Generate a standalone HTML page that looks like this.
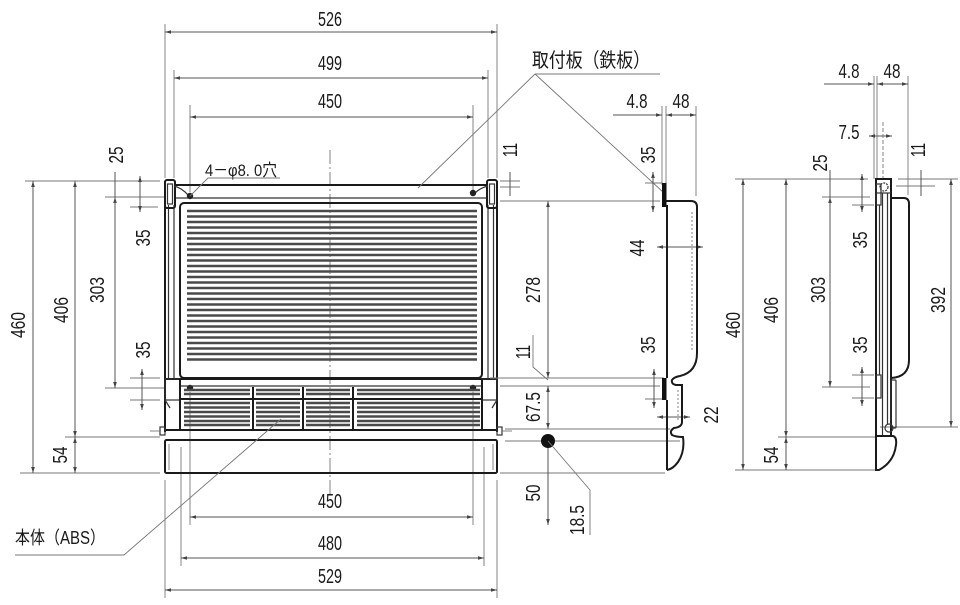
<!DOCTYPE html>
<html><head><meta charset="utf-8"><style>
html,body{margin:0;padding:0;background:#fff;}
svg{display:block;}
.o{stroke:#1a1a1a;fill:none;stroke-width:2;}
.m{stroke:#333;fill:none;stroke-width:1.2;}
.d{stroke:#555;fill:none;stroke-width:1;}
.e{stroke:#777;fill:none;stroke-width:0.9;}
.g{stroke:#4a4a4a;stroke-width:2.4;}
.t{font-family:"Liberation Sans Narrow","Liberation Sans",sans-serif;font-size:20px;fill:#1a1a1a;}
.j{font-family:"Liberation Sans","Noto Sans CJK JP",sans-serif;fill:#1a1a1a;}
</style></head><body>
<svg width="960" height="605" viewBox="0 0 960 605" xmlns="http://www.w3.org/2000/svg">
<defs>
<marker id="a" viewBox="0 0 10 10" refX="10" refY="5" markerWidth="6" markerHeight="6" orient="auto-start-reverse" markerUnits="userSpaceOnUse"><path d="M0,2 L10,5 L0,8 Z" fill="#444"/></marker>
</defs>
<rect width="960" height="605" fill="#fff"/>

<!-- ================= FRONT VIEW ================= -->
<line x1="330" y1="150" x2="330" y2="495" class="e" stroke-dasharray="14,3,2,3"/>

<!-- top dims -->
<line x1="165" y1="24" x2="165" y2="178" class="e"/>
<line x1="497" y1="24" x2="497" y2="178" class="e"/>
<line x1="165" y1="32" x2="497" y2="32" class="d" marker-start="url(#a)" marker-end="url(#a)"/>
<text x="330" y="26" class="t" text-anchor="middle" textLength="24" lengthAdjust="spacingAndGlyphs">526</text>
<line x1="174" y1="70" x2="174" y2="178" class="e"/>
<line x1="488" y1="70" x2="488" y2="178" class="e"/>
<line x1="174" y1="78" x2="488" y2="78" class="d" marker-start="url(#a)" marker-end="url(#a)"/>
<text x="330" y="70" class="t" text-anchor="middle" textLength="24" lengthAdjust="spacingAndGlyphs">499</text>
<line x1="190" y1="105" x2="190" y2="192" class="e"/>
<line x1="473" y1="105" x2="473" y2="190" class="e"/>
<line x1="190" y1="117" x2="473" y2="117" class="d" marker-start="url(#a)" marker-end="url(#a)"/>
<text x="330" y="108" class="t" text-anchor="middle" textLength="24" lengthAdjust="spacingAndGlyphs">450</text>

<!-- bottom dims -->
<line x1="190" y1="392" x2="190" y2="525" class="e"/>
<line x1="473" y1="392" x2="473" y2="525" class="e"/>
<line x1="190" y1="517" x2="473" y2="517" class="d" marker-start="url(#a)" marker-end="url(#a)"/>
<text x="330" y="508" class="t" text-anchor="middle" textLength="24" lengthAdjust="spacingAndGlyphs">450</text>
<line x1="181" y1="447" x2="181" y2="566" class="e"/>
<line x1="484" y1="447" x2="484" y2="566" class="e"/>
<line x1="181" y1="558" x2="484" y2="558" class="d" marker-start="url(#a)" marker-end="url(#a)"/>
<text x="330" y="550" class="t" text-anchor="middle" textLength="24" lengthAdjust="spacingAndGlyphs">480</text>
<line x1="165" y1="480" x2="165" y2="598" class="e"/>
<line x1="497" y1="480" x2="497" y2="598" class="e"/>
<line x1="165" y1="590" x2="497" y2="590" class="d" marker-start="url(#a)" marker-end="url(#a)"/>
<text x="330" y="583" class="t" text-anchor="middle" textLength="24" lengthAdjust="spacingAndGlyphs">529</text>

<!-- left dims -->
<line x1="25" y1="181" x2="160" y2="181" class="e"/>
<line x1="20" y1="473" x2="160" y2="473" class="e"/>
<line x1="65" y1="437" x2="160" y2="437" class="e"/>
<line x1="105" y1="197" x2="165" y2="197" class="e"/>
<line x1="105" y1="388" x2="165" y2="388" class="e"/>
<line x1="130" y1="207" x2="158" y2="207" class="e"/>
<line x1="130" y1="378" x2="160" y2="378" class="e"/>
<line x1="130" y1="400" x2="160" y2="400" class="e"/>
<line x1="33" y1="181" x2="33" y2="473" class="d" marker-start="url(#a)" marker-end="url(#a)"/>
<line x1="75" y1="181" x2="75" y2="437" class="d" marker-start="url(#a)" marker-end="url(#a)"/>
<line x1="75" y1="437" x2="75" y2="473" class="d" marker-start="url(#a)" marker-end="url(#a)"/>
<line x1="115" y1="197" x2="115" y2="388" class="d" marker-start="url(#a)" marker-end="url(#a)"/>
<line x1="115" y1="172" x2="115" y2="205" class="d"/>
<line x1="140" y1="176" x2="140" y2="212" class="d" marker-start="url(#a)" marker-end="url(#a)"/>
<line x1="142" y1="369" x2="142" y2="410" class="d" marker-start="url(#a)" marker-end="url(#a)"/>
<text transform="translate(18,325) rotate(-90)" dy="7" class="t" text-anchor="middle" textLength="26" lengthAdjust="spacingAndGlyphs">460</text>
<text transform="translate(61,310) rotate(-90)" dy="7" class="t" text-anchor="middle" textLength="26" lengthAdjust="spacingAndGlyphs">406</text>
<text transform="translate(97,290) rotate(-90)" dy="7" class="t" text-anchor="middle" textLength="26" lengthAdjust="spacingAndGlyphs">303</text>
<text transform="translate(116,155) rotate(-90)" dy="7" class="t" text-anchor="middle" textLength="17" lengthAdjust="spacingAndGlyphs">25</text>
<text transform="translate(143,238) rotate(-90)" dy="7" class="t" text-anchor="middle" textLength="17" lengthAdjust="spacingAndGlyphs">35</text>
<text transform="translate(143,350) rotate(-90)" dy="7" class="t" text-anchor="middle" textLength="17" lengthAdjust="spacingAndGlyphs">35</text>
<text transform="translate(60,455) rotate(-90)" dy="7" class="t" text-anchor="middle" textLength="17" lengthAdjust="spacingAndGlyphs">54</text>

<!-- 11 right small dim -->
<line x1="500" y1="181" x2="520" y2="181" class="e"/>
<line x1="500" y1="187" x2="520" y2="187" class="e"/>
<line x1="510" y1="172" x2="510" y2="196" class="d"/>
<text transform="translate(510,150) rotate(-90)" dy="7" class="t" text-anchor="middle" textLength="14" lengthAdjust="spacingAndGlyphs">11</text>

<!-- body frame -->
<line x1="165" y1="181" x2="165" y2="432" class="o"/>
<line x1="497" y1="181" x2="497" y2="432" class="o"/>
<line x1="168.5" y1="205" x2="168.5" y2="378" class="m"/>
<line x1="493.5" y1="205" x2="493.5" y2="378" class="m"/>
<line x1="174" y1="205" x2="174" y2="378" class="m"/>
<line x1="488" y1="205" x2="488" y2="378" class="m"/>
<line x1="175" y1="185" x2="487" y2="185" class="o"/>
<line x1="175" y1="198" x2="487" y2="198" class="m"/>
<rect x="165" y="180" width="10" height="28" rx="2" class="o"/>
<rect x="167.5" y="184" width="5" height="20" class="m" stroke-width="1"/>
<rect x="487" y="180" width="10" height="28" rx="2" class="o"/>
<rect x="489.5" y="184" width="5" height="20" class="m" stroke-width="1"/>
<path d="M174,186 Q182,188 188,195" class="m"/>
<path d="M488,186 Q480,188 475,193" class="m"/>
<circle cx="190" cy="196" r="3.2" fill="#222"/>
<circle cx="473" cy="193" r="3.2" fill="#222"/>
<circle cx="190" cy="388" r="3.2" fill="#222"/>
<circle cx="473" cy="388" r="3.2" fill="#222"/>
<rect x="180" y="203" width="302" height="175" rx="4" class="o"/>
<g class="g">
<line x1="187" y1="211" x2="477" y2="211"/><line x1="187" y1="216.5" x2="477" y2="216.5"/>
<line x1="187" y1="222" x2="477" y2="222"/><line x1="187" y1="227.5" x2="477" y2="227.5"/>
<line x1="187" y1="233" x2="477" y2="233"/><line x1="187" y1="238.5" x2="477" y2="238.5"/>
<line x1="187" y1="244" x2="477" y2="244"/><line x1="187" y1="249.5" x2="477" y2="249.5"/>
<line x1="187" y1="255" x2="477" y2="255"/><line x1="187" y1="260.5" x2="477" y2="260.5"/>
<line x1="187" y1="266" x2="477" y2="266"/><line x1="187" y1="271.5" x2="477" y2="271.5"/>
<line x1="187" y1="277" x2="477" y2="277"/><line x1="187" y1="282.5" x2="477" y2="282.5"/>
<line x1="187" y1="288" x2="477" y2="288"/><line x1="187" y1="293.5" x2="477" y2="293.5"/>
<line x1="187" y1="299" x2="477" y2="299"/><line x1="187" y1="304.5" x2="477" y2="304.5"/>
<line x1="187" y1="310" x2="477" y2="310"/><line x1="187" y1="315.5" x2="477" y2="315.5"/>
<line x1="187" y1="321" x2="477" y2="321"/><line x1="187" y1="326.5" x2="477" y2="326.5"/>
<line x1="187" y1="332" x2="477" y2="332"/><line x1="187" y1="337.5" x2="477" y2="337.5"/>
<line x1="187" y1="343" x2="477" y2="343"/><line x1="187" y1="348.5" x2="477" y2="348.5"/>
<line x1="187" y1="354" x2="477" y2="354"/><line x1="187" y1="359.5" x2="477" y2="359.5"/>
</g>
<line x1="165" y1="379" x2="497" y2="379" class="o"/>
<rect x="165" y="379" width="15" height="21" class="m" stroke-width="1.6"/>
<rect x="482" y="379" width="15" height="21" class="m" stroke-width="1.6"/>
<path d="M165,400 L170,408 M497,400 L492,408" class="m"/>
<line x1="180" y1="386" x2="482" y2="386" class="m"/>
<line x1="180" y1="379" x2="180" y2="431" class="o"/>
<line x1="482" y1="379" x2="482" y2="431" class="o"/>
<g class="g" stroke-width="1.9">
<path d="M184,390H250M184,394H250M184,403H250M184,407.5H250M184,412H250M184,416.5H250M184,421H250M184,425H250"/>
<path d="M256,390H300M256,394H300M256,403H300M256,407.5H300M256,412H300M256,416.5H300M256,421H300M256,425H300"/>
<path d="M306,390H350M306,394H350M306,403H350M306,407.5H350M306,412H350M306,416.5H350M306,421H350M306,425H350"/>
<path d="M357,390H480M357,394H480M357,403H480M357,407.5H480M357,412H480M357,416.5H480M357,421H480M357,425H480"/>
</g>
<line x1="180" y1="399" x2="482" y2="399" class="o"/>
<line x1="253" y1="387" x2="253" y2="430" class="o" stroke-width="2.5"/>
<line x1="303" y1="387" x2="303" y2="430" class="o" stroke-width="2.5"/>
<line x1="353" y1="387" x2="353" y2="430" class="o" stroke-width="2.5"/>
<line x1="165" y1="430" x2="497" y2="430" class="o"/>
<rect x="160" y="427" width="5" height="8" class="m"/>
<rect x="497" y="427" width="5" height="8" class="m"/>
<line x1="150" y1="431" x2="160" y2="431" class="e"/>
<line x1="502" y1="431" x2="512" y2="431" class="e"/>
<rect x="165" y="440" width="332" height="33" rx="1.5" class="o"/>
<line x1="169" y1="444" x2="169" y2="470" class="e"/>
<line x1="493" y1="444" x2="493" y2="470" class="e"/>

<!-- labels -->
<text x="205" y="176" class="j" font-size="17" textLength="72" lengthAdjust="spacingAndGlyphs">4－φ8. 0穴</text>
<path d="M280,178 L208,178 L190,196" class="e" stroke="#555"/>
<text x="532" y="67" class="j" font-size="20" textLength="118" lengthAdjust="spacingAndGlyphs">取付板（鉄板）</text>
<path d="M660,74 L535,74 L418,188 M535,74 L663,192" class="e" stroke="#555"/>
<text x="15" y="544" class="j" font-size="18" textLength="90" lengthAdjust="spacingAndGlyphs">本体（ABS）</text>
<path d="M15,555 L124,555 L281,419" class="e" stroke="#555"/>

<!-- ================= SECTION VIEW ================= -->
<line x1="500" y1="201" x2="660" y2="201" class="e"/>
<line x1="490" y1="378" x2="664" y2="378" class="e"/>
<line x1="500" y1="386" x2="660" y2="386" class="e"/>
<line x1="505" y1="429" x2="670" y2="429" class="e"/>
<line x1="505" y1="441" x2="680" y2="441" class="e"/>
<line x1="500" y1="473" x2="665" y2="473" class="e"/>
<line x1="548" y1="201" x2="548" y2="378" class="d" marker-start="url(#a)" marker-end="url(#a)"/>
<line x1="548" y1="386" x2="548" y2="429" class="d" marker-start="url(#a)" marker-end="url(#a)"/>
<line x1="548" y1="441" x2="548" y2="525" class="d" marker-end="url(#a)"/>
<circle cx="548" cy="441" r="7" fill="#111"/>
<path d="M548,441 L590,490 L590,535" class="e" stroke="#555"/>
<path d="M533,335 L533,367 L548,380" class="e" stroke="#555"/>
<text transform="translate(533,290) rotate(-90)" dy="7" class="t" text-anchor="middle" textLength="26" lengthAdjust="spacingAndGlyphs">278</text>
<text transform="translate(523,352) rotate(-90)" dy="7" class="t" text-anchor="middle" textLength="14" lengthAdjust="spacingAndGlyphs">11</text>
<text transform="translate(533,407) rotate(-90)" dy="7" class="t" text-anchor="middle" textLength="30" lengthAdjust="spacingAndGlyphs">67.5</text>
<text transform="translate(533,493) rotate(-90)" dy="7" class="t" text-anchor="middle" textLength="17" lengthAdjust="spacingAndGlyphs">50</text>
<text transform="translate(577,520) rotate(-90)" dy="7" class="t" text-anchor="middle" textLength="30" lengthAdjust="spacingAndGlyphs">18.5</text>

<line x1="662" y1="106" x2="662" y2="185" class="e"/>
<line x1="666" y1="106" x2="666" y2="185" class="e"/>
<line x1="696" y1="106" x2="696" y2="196" class="e"/>
<line x1="613" y1="115" x2="662" y2="115" class="d" marker-end="url(#a)"/>
<line x1="666" y1="115" x2="696" y2="115" class="d" marker-start="url(#a)" marker-end="url(#a)"/>
<text x="637" y="108" class="t" text-anchor="middle" textLength="21" lengthAdjust="spacingAndGlyphs">4.8</text>
<text x="681" y="108" class="t" text-anchor="middle" textLength="17" lengthAdjust="spacingAndGlyphs">48</text>
<line x1="645" y1="183" x2="662" y2="183" class="e"/>
<line x1="653" y1="172" x2="653" y2="212" class="d" marker-start="url(#a)" marker-end="url(#a)"/>
<text transform="translate(648,155) rotate(-90)" dy="7" class="t" text-anchor="middle" textLength="17" lengthAdjust="spacingAndGlyphs">35</text>
<line x1="645" y1="399" x2="662" y2="399" class="e"/>
<line x1="654" y1="369" x2="654" y2="408" class="d" marker-start="url(#a)" marker-end="url(#a)"/>
<text transform="translate(648,345) rotate(-90)" dy="7" class="t" text-anchor="middle" textLength="17" lengthAdjust="spacingAndGlyphs">35</text>
<line x1="657" y1="247" x2="703" y2="247" class="d" marker-start="url(#a)" marker-end="url(#a)"/>
<text transform="translate(637,248) rotate(-90)" dy="7" class="t" text-anchor="middle" textLength="17" lengthAdjust="spacingAndGlyphs">44</text>
<line x1="657" y1="417" x2="690" y2="417" class="d" marker-start="url(#a)" marker-end="url(#a)"/>
<text transform="translate(711,415) rotate(-90)" dy="7" class="t" text-anchor="middle" textLength="17" lengthAdjust="spacingAndGlyphs">22</text>

<rect x="662" y="183" width="4.5" height="24" fill="#111"/>
<rect x="662" y="378" width="4.5" height="22" fill="#111"/>
<path d="M666,201 H691 Q697,201 697,207 V353 Q697,372 680,376 Q674,377 672,380 Q671,384 676,385 H682 V422 Q682,427 674,428 Q669,431 672,435 Q676,437 683,437 Q685,452 678,462 Q673,469 667,470" class="o" stroke-width="2.4"/>
<line x1="667" y1="205" x2="667" y2="378" class="o" stroke-width="1.6"/>
<line x1="667" y1="400" x2="667" y2="470" class="o" stroke-width="1.8"/>
<line x1="692" y1="212" x2="692" y2="350" class="e" stroke="#444" stroke-dasharray="2,2"/>
<line x1="678" y1="390" x2="678" y2="420" class="e" stroke="#444" stroke-dasharray="2,2"/>

<!-- ================= SIDE VIEW ================= -->
<line x1="735" y1="179" x2="868" y2="179" class="e"/>
<line x1="735" y1="470" x2="876" y2="470" class="e"/>
<line x1="778" y1="437" x2="876" y2="437" class="e"/>
<line x1="822" y1="197" x2="870" y2="197" class="e"/>
<line x1="822" y1="387" x2="870" y2="387" class="e"/>
<line x1="852" y1="205" x2="874" y2="205" class="e"/>
<line x1="852" y1="375" x2="874" y2="375" class="e"/>
<line x1="852" y1="398" x2="874" y2="398" class="e"/>
<line x1="880" y1="427" x2="958" y2="427" class="e"/>
<line x1="898" y1="179" x2="958" y2="179" class="e"/>
<line x1="896" y1="186" x2="935" y2="186" class="e"/>
<line x1="743" y1="179" x2="743" y2="470" class="d" marker-start="url(#a)" marker-end="url(#a)"/>
<line x1="786" y1="179" x2="786" y2="437" class="d" marker-start="url(#a)" marker-end="url(#a)"/>
<line x1="786" y1="437" x2="786" y2="470" class="d" marker-start="url(#a)" marker-end="url(#a)"/>
<line x1="830" y1="197" x2="830" y2="387" class="d" marker-start="url(#a)" marker-end="url(#a)"/>
<line x1="830" y1="170" x2="830" y2="205" class="d"/>
<line x1="862" y1="174" x2="862" y2="212" class="d" marker-start="url(#a)" marker-end="url(#a)"/>
<line x1="862" y1="367" x2="862" y2="406" class="d" marker-start="url(#a)" marker-end="url(#a)"/>
<line x1="951" y1="179" x2="951" y2="427" class="d" marker-start="url(#a)" marker-end="url(#a)"/>
<line x1="921" y1="170" x2="921" y2="196" class="d"/>
<text transform="translate(733,325) rotate(-90)" dy="7" class="t" text-anchor="middle" textLength="26" lengthAdjust="spacingAndGlyphs">460</text>
<text transform="translate(771,310) rotate(-90)" dy="7" class="t" text-anchor="middle" textLength="26" lengthAdjust="spacingAndGlyphs">406</text>
<text transform="translate(818,290) rotate(-90)" dy="7" class="t" text-anchor="middle" textLength="26" lengthAdjust="spacingAndGlyphs">303</text>
<text transform="translate(820,163) rotate(-90)" dy="7" class="t" text-anchor="middle" textLength="17" lengthAdjust="spacingAndGlyphs">25</text>
<text transform="translate(860,240) rotate(-90)" dy="7" class="t" text-anchor="middle" textLength="17" lengthAdjust="spacingAndGlyphs">35</text>
<text transform="translate(860,345) rotate(-90)" dy="7" class="t" text-anchor="middle" textLength="17" lengthAdjust="spacingAndGlyphs">35</text>
<text transform="translate(771,455) rotate(-90)" dy="7" class="t" text-anchor="middle" textLength="17" lengthAdjust="spacingAndGlyphs">54</text>
<text transform="translate(918,150) rotate(-90)" dy="7" class="t" text-anchor="middle" textLength="14" lengthAdjust="spacingAndGlyphs">11</text>
<text transform="translate(938,300) rotate(-90)" dy="7" class="t" text-anchor="middle" textLength="26" lengthAdjust="spacingAndGlyphs">392</text>
<line x1="874" y1="76" x2="874" y2="179" class="e"/>
<line x1="877" y1="76" x2="877" y2="179" class="e"/>
<line x1="908" y1="76" x2="908" y2="195" class="e"/>
<line x1="824" y1="84" x2="874" y2="84" class="d" marker-end="url(#a)"/>
<line x1="877" y1="84" x2="908" y2="84" class="d" marker-start="url(#a)" marker-end="url(#a)"/>
<text x="849" y="78" class="t" text-anchor="middle" textLength="21" lengthAdjust="spacingAndGlyphs">4.8</text>
<text x="892" y="78" class="t" text-anchor="middle" textLength="17" lengthAdjust="spacingAndGlyphs">48</text>
<line x1="869" y1="136" x2="892" y2="136" class="d" marker-start="url(#a)" marker-end="url(#a)"/>
<line x1="883" y1="122" x2="883" y2="178" class="e" stroke-dasharray="4,2"/>
<text x="849" y="139" class="t" text-anchor="middle" textLength="21" lengthAdjust="spacingAndGlyphs">7.5</text>
<rect x="876" y="179" width="15" height="257" class="o"/>
<line x1="879.5" y1="205" x2="879.5" y2="375" class="m" stroke-width="1"/>
<line x1="882.5" y1="193" x2="882.5" y2="436" class="m" stroke-width="1"/>
<line x1="887.5" y1="193" x2="887.5" y2="424" class="m" stroke-width="1"/>
<line x1="876" y1="193" x2="891" y2="193" class="m"/>
<rect x="876" y="184" width="5" height="21" class="m"/>
<rect x="876" y="375" width="5" height="23" class="m"/>
<circle cx="884" cy="187" r="4" class="m" stroke-dasharray="2,1"/>
<path d="M891,198 H904 Q909,198 909,204 V360 Q909,377 891,378" class="o" stroke-width="1.6"/>
<rect x="891" y="380" width="5" height="48" rx="1" class="m"/>
<circle cx="889" cy="428" r="4" class="m"/>
<path d="M876,436 H893 Q897,437 896,445 Q894,462 879,470 H876 Z" class="o"/>
</svg>
</body></html>
